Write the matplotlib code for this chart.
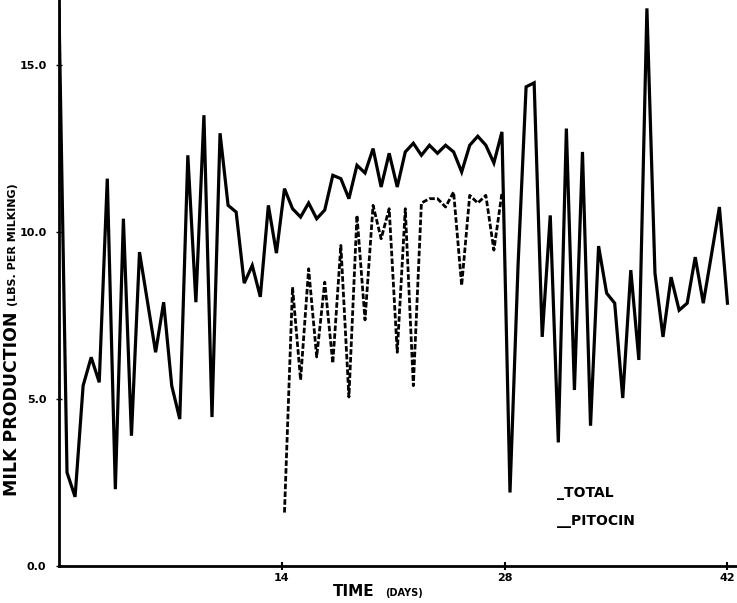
import numpy as np
import matplotlib
matplotlib.use("Agg")
import matplotlib.pyplot as plt

# valores (lbs por ordeño, dos ordeños por dia)
total = [16.7, 2.8, 2.07, 5.4, 6.25, 5.5, 11.6, 2.3, 10.4, 3.9,
         9.4, 7.9, 6.4, 7.9, 5.4, 4.4, 12.3, 7.9, 13.5, 4.46,
         12.96, 10.8, 10.6, 8.47, 9.0, 8.06, 10.8, 9.37, 11.3, 10.7,
         10.45, 10.87, 10.4, 10.66, 11.7, 11.6, 11.0, 12.0, 11.77, 12.5,
         11.35, 12.36, 11.35, 12.4, 12.66, 12.3, 12.6, 12.36, 12.6, 12.4,
         11.8, 12.6, 12.87, 12.6, 12.07, 13.0, 2.2, 9.0, 14.35, 14.47,
         6.86, 10.5, 3.7, 13.1, 5.27, 12.4, 4.2, 9.58, 8.17, 7.87,
         5.03, 8.86, 6.17, 16.7, 8.77, 6.86, 8.65, 7.66, 7.87, 9.25,
         7.87, 9.3, 10.75, 7.87]

pitocin = [1.6, 8.35, 5.57, 8.9, 6.26, 8.5, 6.07, 9.6, 5.06, 10.5,
           7.37, 10.8, 9.8, 10.7, 6.4, 10.7, 5.4, 10.87, 11.0, 11.0,
           10.75, 11.2, 8.4, 11.1, 10.87, 11.1, 9.46, 11.17]
pitocin_start = 28  # indice del ordeño donde empieza la pitocina

x_ticks = [14, 28, 42]
y_ticks = [0.0, 5.0, 10.0, 15.0]

days = np.linspace(0, 42, len(total))
days_pit = days[pitocin_start:pitocin_start + len(pitocin)]

fig = plt.figure(figsize=(7.37, 6.03), dpi=100)
ax = fig.add_axes([0.080, 0.0614, 0.92, 0.9386])

ax.plot(days, total, color="black", lw=2.3, solid_joinstyle="miter")
ax.plot(days_pit, pitocin, color="black", lw=2.0, linestyle=(0, (2.0, 0.8)))

ax.set_xlim(0, 42.6)
ax.set_ylim(0, 16.95)

for s in ["top", "right"]:
    ax.spines[s].set_visible(False)
ax.spines["left"].set_linewidth(2.0)
ax.spines["bottom"].set_linewidth(2.0)

ax.set_xticks(x_ticks)
ax.set_xticklabels([str(t) for t in x_ticks], fontsize=8, fontweight="bold")
ax.set_yticks(y_ticks)
ax.set_yticklabels([f"{t:.1f}" for t in y_ticks], fontsize=8, fontweight="bold")
ax.tick_params(axis="x", direction="inout", length=6, width=1.5, pad=2)
ax.tick_params(axis="y", direction="inout", length=4, width=1.0, pad=7)

# etiquetas de ejes
fig.text(0.016, 0.330, "MILK PRODUCTION", rotation=90, fontsize=12.5,
         fontweight="bold", ha="center", va="center")
fig.text(0.018, 0.594, "(LBS. PER MILKING)", rotation=90, fontsize=8,
         fontweight="bold", ha="center", va="center")
fig.text(0.480, 0.006, "TIME", fontsize=11, fontweight="bold", ha="center", va="bottom")
fig.text(0.548, 0.008, "(DAYS)", fontsize=7, fontweight="bold", ha="center", va="bottom")

# leyenda escrita a mano
ax.text(0.734, 0.121, "_TOTAL", transform=ax.transAxes, fontsize=10, fontweight="bold")
ax.text(0.734, 0.072, "__PITOCIN", transform=ax.transAxes, fontsize=10, fontweight="bold")

fig.savefig("out.png", dpi=100)
